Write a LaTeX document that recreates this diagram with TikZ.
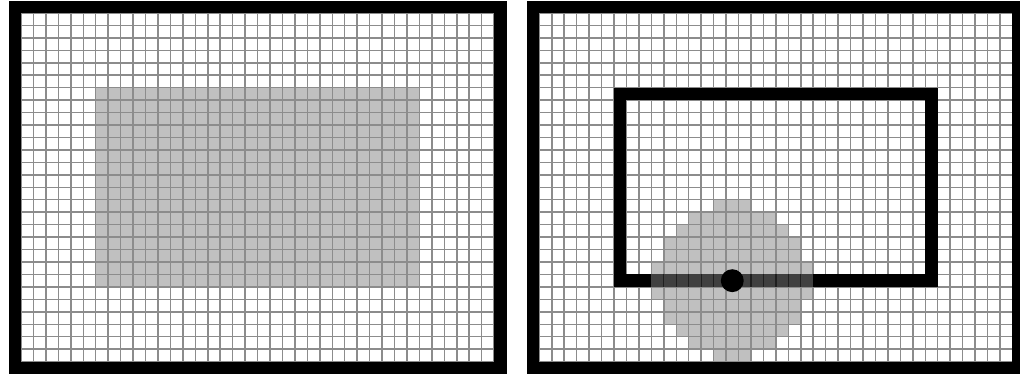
\documentclass[tikz,border=0pt]{standalone}
\definecolor{cellgray}{HTML}{C0C0C0}
\definecolor{linegray}{HTML}{8C8C8C}
\definecolor{darkcell}{HTML}{404040}
\tikzset{
  gridline/.style={draw=linegray, line width=1.5pt},
  frameline/.style={draw=black, line width=12.45pt},
  darkline/.style={draw=black!88, line width=1.3pt}
}
\begin{document}
\begin{tikzpicture}[x=1pt,y=-1pt]
\useasboundingbox (0,0) rectangle (1020,374);
\clip (0,0) rectangle (1020,374);
\fill[white] (0,0) rectangle (1020,374);
% left panel
\begin{scope}[shift={(21,13)},x=12.45pt,y=-12.45pt]
  \fill[cellgray] (6,6) rectangle (32,22);
  \foreach \i in {0,...,38} \draw[gridline] (\i,0) -- (\i,28);
  \foreach \j in {0,...,28} \draw[gridline] (0,\j) -- (38,\j);
  \draw[frameline] (-0.5,-0.5) rectangle (38.5,28.5);
\end{scope}
% right panel
\begin{scope}[shift={(539.3,13)},x=12.45pt,y=-12.45pt]
  \foreach \r/\a/\b in {15/14/16,16/12/18,17/11/19,18/10/20,19/10/20,20/9/21,21/9/21,22/9/21,23/10/20,24/10/20,25/11/19,26/12/18,27/14/16}
    \fill[cellgray] (\a,\r) rectangle (\b+1,\r+1);
  \foreach \i in {0,...,38} \draw[gridline] (\i,0) -- (\i,28);
  \foreach \j in {0,...,28} \draw[gridline] (0,\j) -- (38,\j);
  \draw[frameline] (-0.5,-0.5) rectangle (38.5,28.5);
  \draw[frameline] (6.5,6.5) rectangle (31.5,21.5);
  \fill[darkcell] (9,21) rectangle (22,22);
  \foreach \c in {10,...,21} \draw[darkline] (\c,21) -- (\c,22);
  \fill[black] (15.5,21.5) circle[radius=0.92];
\end{scope}
\end{tikzpicture}
\end{document}
